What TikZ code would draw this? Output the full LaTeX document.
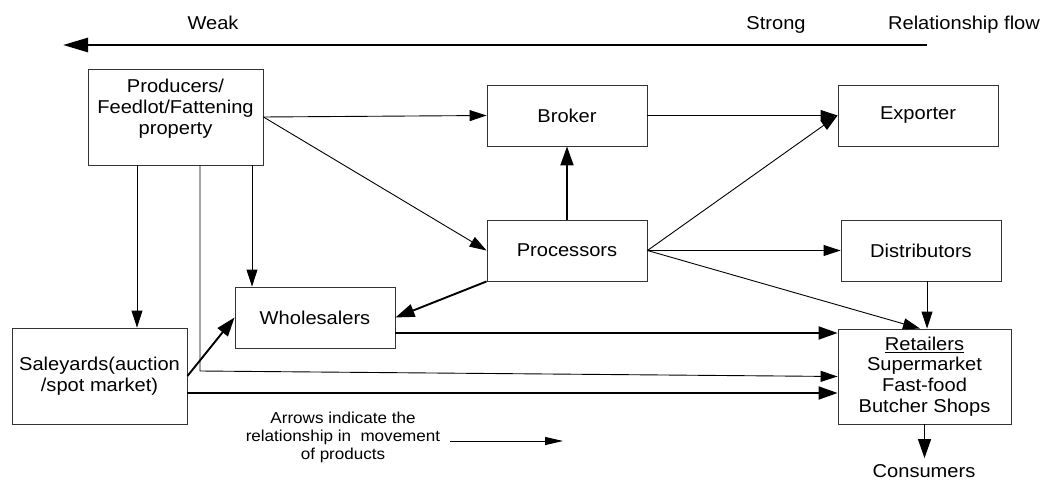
\documentclass[tikz,border=0pt]{standalone}
\usepackage{fontspec}
\setmainfont{Liberation Sans}[FakeStretch=1.08]
\usetikzlibrary{arrows.meta}

\begin{document}
\begin{tikzpicture}[x=1pt,y=-1pt,
  box/.style={draw=black!80, line width=0.9pt, fill=white, align=center,
              inner sep=0pt, font=\fontsize{18.6}{20.7}\selectfont},
  widebox/.style={box, minimum width=175pt, minimum height=96pt},
  smallbox/.style={box, minimum width=160pt, minimum height=61pt},
  lbl/.style={inner sep=0pt, font=\fontsize{18.6}{20.7}\selectfont},
  flow/.style={line width=0.9pt, -{Triangle[length=17pt,width=11pt]}},
  heavyflow/.style={line width=1.9pt, -{Triangle[length=19pt,width=13pt]}},
]
\useasboundingbox (0,0) rectangle (1046,481);

% relationship strength scale
\node[lbl, anchor=base] (weak) at (213,29.5) {Weak};
\node[lbl, anchor=base] (strong) at (776,29.5) {Strong};
\node[lbl, anchor=base] (relflow) at (964,29.5) {Relationship flow};
\coordinate (rf0) at (927,45);
\coordinate (rf1) at (63,45);
\draw[line width=2.6pt, -{Triangle[length=25pt,width=14pt]}] (rf0) -- (rf1);

% chain members
\node[widebox] (prod) at (175.5,117) {Producers/\\Feedlot/Fattening\\property\\\mbox{}};
\node[widebox] (sale) at (99.5,376) {Saleyards(auction\\/spot market)};
\node[smallbox] (whol) at (315,317.5) {Wholesalers};
\node[smallbox] (broker) at (567,115.5) {Broker};
\node[smallbox] (proc) at (567,250.5) {Processors};
\node[smallbox] (exp) at (918,115.5) {Exporter};
\node[smallbox] (dist) at (921,250.5) {Distributors};
\node[box, minimum width=173pt, minimum height=95pt] (ret) at (924.5,376.5)
  {\underline{Retailers}\\Supermarket\\Fast-food\\Butcher Shops};
\node[lbl, anchor=base, inner ysep=5.7pt] (cons) at (924,477) {Consumers};

% helper columns and rows for the parallel connectors
\coordinate (xa) at (137,0);
\coordinate (xb) at (200,0);
\coordinate (xc) at (252,0);
\coordinate (xe) at (927,0);
\coordinate (xf) at (920,0);
\coordinate (ya) at (0,393);
\coordinate (yb) at (0,333);
\coordinate (bend) at (200,371);

% flows out of the producers
\draw[flow] (prod.south -| xa) -- (sale.north -| xa);
\draw[flow] (prod.south -| xc) -- (whol.north -| xc);
\draw[flow] (prod.south -| xb) -- (bend) -- (ret.west);
\draw[flow] (prod.east) -- (broker.west);
\draw[flow] (prod.east) -- (proc.west);

% saleyards and wholesalers
\draw[heavyflow] (sale.east) -- (whol.west);
\draw[heavyflow] (sale.east |- ya) -- (ret.west |- ya);
\draw[heavyflow] (whol.east |- yb) -- (ret.west |- yb);

% processors
\draw[heavyflow] (proc.north) -- (broker.south);
\draw[heavyflow] (proc.south west) -- (whol.east);
\draw[flow] (proc.east) -- (exp.west);
\draw[flow] (proc.east) -- (dist.west);
\draw[flow] (proc.east) -- (ret.north -| xf);
\draw[flow] (broker.east) -- (exp.west);

% towards the consumer
\draw[flow] (dist.south -| xe) -- (ret.north -| xe);
\draw[line width=1.3pt, -{Triangle[length=19pt,width=13pt]}] (ret.south) -- (ret.south |- cons.north);

% legend
\node[inner sep=0pt, align=center, font=\fontsize{15.8}{18}\selectfont] (legend) at (343,437)
  {Arrows indicate the\\relationship in\ \ movement\\of products};
\coordinate (lg0) at (450,441);
\coordinate (lg1) at (563,441);
\draw[line width=0.9pt, -{Triangle[length=18pt,width=8pt]}] (lg0) -- (lg1);
\end{tikzpicture}
\end{document}
